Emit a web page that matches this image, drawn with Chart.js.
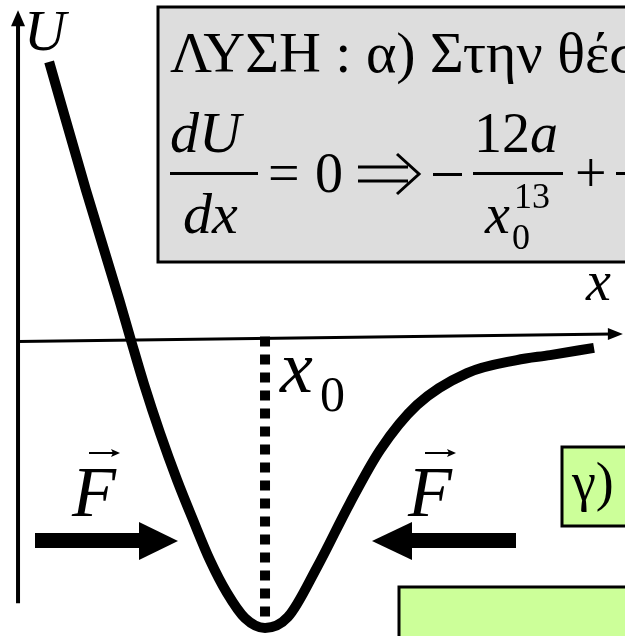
<!DOCTYPE html>
<html lang="el">
<head>
  <meta charset="UTF-8">
  <title>Δυναμική ενέργεια U(x)</title>
  <script src="https://cdn.jsdelivr.net/npm/chart.js"></script>
  <style>
    html, body { margin: 0; padding: 0; background: #fff; overflow: hidden; }
    canvas { display: block; }
  </style>
</head>
<body>
  <canvas id="potChart" width="625" height="636"></canvas>
  <script>
    // potential curve U(x), x in units of x0, U in units of |Umin|
    const curveX = [0.126, 0.275, 0.410, 0.457, 0.511, 0.575, 0.644, 0.709, 0.777, 0.846, 0.919, 1.000,
                    1.093, 1.211, 1.344, 1.466, 1.615, 1.818, 2.020, 2.154, 2.332];
    const curveU = [0.952, 0.510, 0.131, -0.007, -0.162, -0.328, -0.490, -0.628, -0.766, -0.879, -0.966, -1.000,
                    -0.962, -0.790, -0.569, -0.386, -0.231, -0.121, -0.076, -0.059, -0.034];

    const x0 = 1;        // equilibrium position
    const Umin = -1;     // depth of the well
    const xAxisEnd = 2.449;
    const uAxisTop = 1.120;
    const uAxisBottom = -0.915;

    const serif = '"Liberation Serif", "DejaVu Serif", serif';

    function arrowHead(ctx, tipX, tipY, len, half, dir) {
      // dir: 'up', 'right', 'left'
      ctx.beginPath();
      if (dir === 'up') {
        ctx.moveTo(tipX, tipY);
        ctx.lineTo(tipX - half, tipY + len);
        ctx.lineTo(tipX + half, tipY + len);
      } else if (dir === 'right') {
        ctx.moveTo(tipX, tipY);
        ctx.lineTo(tipX - len, tipY - half);
        ctx.lineTo(tipX - len, tipY + half);
      } else {
        ctx.moveTo(tipX, tipY);
        ctx.lineTo(tipX + len, tipY - half);
        ctx.lineTo(tipX + len, tipY + half);
      }
      ctx.closePath();
      ctx.fill();
    }

    function vecF(ctx, px, py) {
      ctx.font = 'italic 72px ' + serif;
      ctx.fillText('F', px, py);
      // small arrow over F
      ctx.lineWidth = 2;
      ctx.beginPath();
      ctx.moveTo(px + 17, py - 63);
      ctx.lineTo(px + 46, py - 63);
      ctx.stroke();
      ctx.beginPath();
      ctx.moveTo(px + 48, py - 63);
      ctx.lineTo(px + 39, py - 67);
      ctx.lineTo(px + 41, py - 63);
      ctx.lineTo(px + 39, py - 59);
      ctx.closePath();
      ctx.fill();
    }

    function box(ctx, l, t, r, b, fill) {
      ctx.fillStyle = fill;
      ctx.fillRect(l, t, r - l, b - t);
      ctx.strokeStyle = '#000';
      ctx.lineWidth = 3;
      ctx.strokeRect(l, t, r - l, b - t);
      ctx.fillStyle = '#000';
    }

    const decor = {
      id: 'decor',
      beforeDatasetsDraw(chart) {
        const { ctx, scales: { x, y } } = chart;
        ctx.save();
        ctx.fillStyle = '#000';
        ctx.strokeStyle = '#000';

        // U axis
        const ax = x.getPixelForValue(0);
        ctx.lineWidth = 4;
        ctx.beginPath();
        ctx.moveTo(ax, y.getPixelForValue(uAxisBottom));
        ctx.lineTo(ax, y.getPixelForValue(uAxisTop) + 10);
        ctx.stroke();
        arrowHead(ctx, ax, y.getPixelForValue(uAxisTop) - 3, 16, 7, 'up');

        // x axis (slightly tilted in the drawing)
        ctx.lineWidth = 3;
        ctx.beginPath();
        ctx.moveTo(ax, y.getPixelForValue(-0.012));
        ctx.lineTo(x.getPixelForValue(xAxisEnd) - 10, y.getPixelForValue(0.014));
        ctx.stroke();
        arrowHead(ctx, x.getPixelForValue(xAxisEnd), y.getPixelForValue(0.014), 15, 6, 'right');

        // dotted line at x0
        ctx.lineWidth = 10;
        ctx.setLineDash([10, 8]);
        ctx.beginPath();
        ctx.moveTo(x.getPixelForValue(x0), y.getPixelForValue(0.005));
        ctx.lineTo(x.getPixelForValue(x0), y.getPixelForValue(Umin) + 4);
        ctx.stroke();
        ctx.setLineDash([]);
        ctx.restore();
      },
      afterDatasetsDraw(chart) {
        const { ctx } = chart;
        ctx.save();
        ctx.fillStyle = '#000';
        ctx.strokeStyle = '#000';
        ctx.textBaseline = 'alphabetic';

        // axis labels
        ctx.font = 'italic 58px ' + serif;
        ctx.fillText('U', 24, 50);
        ctx.font = 'italic 56px ' + serif;
        ctx.fillText('x', 586, 300);

        // x0 label
        ctx.font = 'italic 74px ' + serif;
        ctx.fillText('x', 280, 392);
        ctx.font = '50px ' + serif;
        ctx.fillText('0', 320, 411);

        // forces
        vecF(ctx, 72, 516);
        vecF(ctx, 408, 516);
        ctx.fillRect(35, 533, 106, 15);
        arrowHead(ctx, 178, 541, 39, 19, 'right');
        ctx.fillRect(410, 533, 106, 15);
        arrowHead(ctx, 372, 541, 40, 19, 'left');

        // solution box
        box(ctx, 158, 7, 660, 262, '#dddddd');
        ctx.font = '58px ' + serif;
        ctx.fillText('ΛΥΣΗ : α) Στην θέση', 170, 72);

        ctx.font = 'italic 58px ' + serif;
        ctx.fillText('dU', 170, 152);
        ctx.fillText('dx', 183, 233);
        ctx.fillRect(170, 172, 88, 3);
        ctx.font = '56px ' + serif;
        ctx.fillText('=', 268, 192);
        ctx.fillText('0', 315, 192);
        // implies arrow
        ctx.lineWidth = 3;
        ctx.beginPath();
        ctx.moveTo(358, 167); ctx.lineTo(408, 167);
        ctx.moveTo(358, 181); ctx.lineTo(408, 181);
        ctx.moveTo(397, 154); ctx.lineTo(419, 174); ctx.lineTo(397, 194);
        ctx.stroke();
        ctx.fillRect(433, 173, 29, 3);
        ctx.fillText('12', 474, 152);
        ctx.font = 'italic 56px ' + serif;
        ctx.fillText('a', 530, 152);
        ctx.fillRect(473, 172, 90, 3);
        ctx.fillText('x', 485, 233);
        ctx.font = '36px ' + serif;
        ctx.fillText('13', 514, 208);
        ctx.fillText('0', 512, 249);
        ctx.font = '56px ' + serif;
        ctx.fillText('+', 575, 192);
        ctx.fillRect(616, 172, 20, 3);

        // answer boxes
        box(ctx, 562, 447, 660, 526, '#ccff99');
        ctx.font = '54px ' + serif;
        ctx.fillText('γ)', 572, 500);
        box(ctx, 399, 587, 660, 680, '#ccff99');

        ctx.restore();
      }
    };

    new Chart(document.getElementById('potChart'), {
      type: 'line',
      data: {
        labels: curveX,
        datasets: [{
          label: 'U(x)',
          data: curveX.map((v, i) => ({ x: v, y: curveU[i] })),
          borderColor: '#000',
          borderWidth: 10,
          borderCapStyle: 'butt',
          borderJoinStyle: 'round',
          pointRadius: 0,
          fill: false,
          cubicInterpolationMode: 'monotone'
        }]
      },
      options: {
        responsive: false,
        devicePixelRatio: 1,
        animation: false,
        events: [],
        layout: { padding: 0 },
        plugins: { legend: { display: false }, tooltip: { enabled: false } },
        scales: {
          x: { type: 'linear', min: -0.073, max: 2.4575, display: false },
          y: { type: 'linear', min: -1.0276, max: 1.1655, display: false }
        }
      },
      plugins: [decor]
    });
  </script>
</body>
</html>
